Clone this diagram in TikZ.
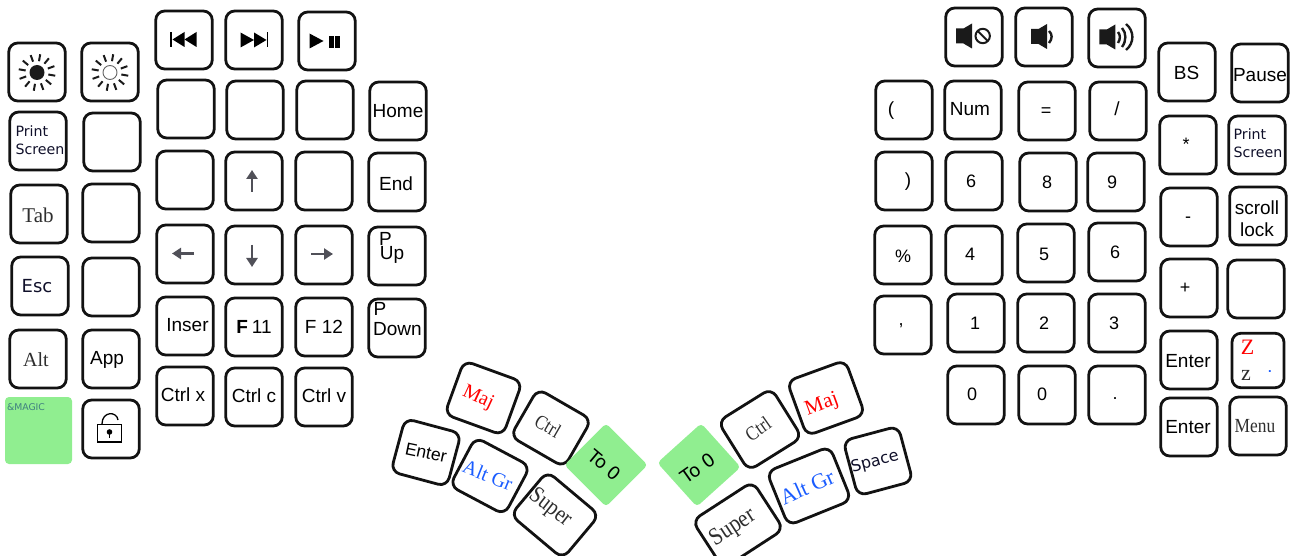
\documentclass[tikz,border=0pt]{standalone}
\usepackage{fontspec}
\setmainfont{Liberation Sans}
\newfontfamily\serifkey{Liberation Serif}
\newfontfamily\dejakey{DejaVu Sans}
\usetikzlibrary{arrows.meta}
\definecolor{keyline}{HTML}{121212}
\definecolor{keygrey}{HTML}{2E2E2E}
\definecolor{iconink}{HTML}{1A1A1A}
\definecolor{arrowink}{HTML}{505058}
\definecolor{magicgreen}{HTML}{90EE90}
\definecolor{altblue}{HTML}{1A5CFF}
\definecolor{magicink}{HTML}{3F7F80}
\definecolor{printink}{HTML}{10102A}
\newcommand{\kfs}[1]{\fontsize{#1}{#1}\selectfont}
\newcommand{\sunrays}{
    \foreach \a in {15,45,...,345}
        \draw[iconink, line width=2pt] (\a+5:11.5pt) -- (\a+5:18.5pt);
}
\tikzset{
    keybox/.style={draw=keyline, line width=2.8pt, rounded corners=9pt, minimum width=56.5pt, minimum height=58pt, inner sep=0pt, align=center, font=\kfs{19}},
    greenkey/.style={fill=magicgreen, rounded corners=4pt, minimum width=67pt, minimum height=67pt, inner sep=0pt},
    keytext/.style={inner sep=0pt, align=center, font=\kfs{19}},
    seriftext/.style={inner sep=0pt, text=keygrey, font=\serifkey\kfs{20}},
    printtext/.style={inner sep=0pt, align=left, text=printink, font=\dejakey\fontsize{14.2}{18}\selectfont},
    keyarrow/.style={-{Triangle[length=9pt, width=11pt]}, draw=arrowink, fill=arrowink, line width=2.4pt},
    sundark/.pic={\sunrays \fill[iconink] (0,0) circle (7.5pt);},
    sunlight/.pic={\sunrays \draw[black!60, line width=0.9pt] (0,0) circle (7pt);},
    speaker/.pic={\fill[iconink] (0,-7.5) -- (7.5,-7.5) -- (16,-12.5) -- (16,12.5) -- (7.5,7.5) -- (0,7.5) -- cycle;},
    x=1pt, y=-1pt
}
\begin{document}
\begin{tikzpicture}
    \useasboundingbox (0,0) rectangle (1302,556);
    \clip (0,0) rectangle (1302,556);
    % left hand, outer columns
    \node[keybox] (bdark) at (37,72) {};
    \node[keybox] (blight) at (110,72) {};
    \node[keybox] (printl) at (38,141) {};
    \node[keybox] (blanka) at (112,142) {};
    \node[keybox] (tab) at (39,214) {};
    \node[keybox] (blankb) at (111,213) {};
    \node[keybox] (esc) at (40,286) {};
    \node[keybox] (blankc) at (111,287) {};
    \node[keybox] (alt) at (38,359) {};
    \node[keybox] (app) at (111,359) {};
    \node[greenkey] (magic) at (38.5,430.5) {};
    \node[keybox] (lock) at (111,429) {};
    \pic at (37,72.5) {sundark};
    \pic at (110,72.5) {sunlight};
    \node[printtext] (printlt) at (40,140) {Print\\Screen};
    \node[seriftext, font=\serifkey\kfs{21}] (tabt) at (38,215) {Tab};
    \node[keytext, font=\dejakey\kfs{18}, text=printink] (esct) at (37,286) {Esc};
    \node[seriftext] (altt) at (36,360) {Alt};
    \node[keytext] (appt) at (107,359.5) {App};
    \node[inner sep=0pt, text=magicink, font=\dejakey\kfs{9.3}] (magict) at (26,407.5) {\&MAGIC};
    \draw[black, line width=1.3pt] (97.5,442) -- (97.5,424.5) -- (121.5,424.5) -- (121.5,442) -- cycle;
    \draw[black, line width=1.3pt] (102,424) .. controls (102,411) and (117,411) .. (118,420);
    \fill[black] (109.5,432) circle (2.8pt);
    \draw[black, line width=1.3pt] (109.5,433) -- (109.5,438);
    % left hand, main block
    \node[keybox] (prev) at (184,40) {};
    \node[keybox] (next) at (254,40) {};
    \node[keybox] (play) at (327,41) {};
    \node[keybox] (ra) at (186,109) {};
    \node[keybox] (rb) at (255,110) {};
    \node[keybox] (rc) at (325,110) {};
    \node[keybox] (home) at (398,111) {Home};
    \node[keybox] (sa) at (185,180) {};
    \node[keybox] (up) at (254,181) {};
    \node[keybox] (sc) at (324,181) {};
    \node[keybox] (end) at (397,182) {};
    \node[keybox] (left) at (185,254) {};
    \node[keybox] (down) at (254,255) {};
    \node[keybox] (right) at (324,255) {};
    \node[keybox] (pup) at (397,256) {};
    \node[keybox] (inser) at (185,326) {};
    \node[keybox] (ften) at (254,327) {\textbf{F}\kern4pt11};
    \node[keybox] (ftw) at (324,327) {F 12};
    \node[keybox] (pdown) at (397,328) {};
    \node[keybox] (ctrlx) at (185,396) {};
    \node[keybox] (ctrlc) at (254,397) {};
    \node[keybox] (ctrlv) at (324,397) {};
    \fill[black] (170.3,32) rectangle (172.3,47);
    \fill[black] (172.5,39.5) -- (184.5,32) -- (184.5,47) -- cycle;
    \fill[black] (184.5,39.5) -- (196.5,32) -- (196.5,47) -- cycle;
    \fill[black] (240.5,32.5) -- (254,40) -- (240.5,47.5) -- cycle;
    \fill[black] (254,32.5) -- (266.5,40) -- (254,47.5) -- cycle;
    \fill[black] (266.5,32.5) rectangle (268.3,47.5);
    \fill[black] (309.5,33.5) -- (323.5,41) -- (309.5,48.5) -- cycle;
    \fill[black] (329.3,36) rectangle (334,48);
    \fill[black] (335.3,36) rectangle (340,48);
    \draw[keyarrow] (252,192) -- (252,170);
    \draw[keyarrow] (252,245) -- (252,267);
    \draw[keyarrow] (194,253.5) -- (172,253.5);
    \draw[keyarrow] (311,254) -- (333,254);
    \node[keytext] (endt) at (396,184) {End};
    \node[keytext, anchor=north west] (pupp) at (379,232) {P};
    \node[keytext] (pupt) at (392,255) {Up};
    \node[keytext] (insert) at (187.5,325) {Inser};
    \node[keytext, anchor=north west] (pdownp) at (373.5,302.5) {P};
    \node[keytext] (pdownt) at (397.5,329) {Down};
    \node[keytext] (ctrlxt) at (183,395) {Ctrl x};
    \node[keytext] (ctrlct) at (254,395.5) {Ctrl c};
    \node[keytext] (ctrlvt) at (324,396) {Ctrl v};
    % left thumb
    \node[keybox, rotate=-20, minimum width=62pt, minimum height=57pt] (tmaj) at (483.5,398) {};
    \node[keybox, rotate=-30, minimum width=62pt, minimum height=55pt] (tctrl) at (551,428) {};
    \node[keybox, rotate=-15, minimum width=58pt, minimum height=55pt] (tenter) at (426,452.5) {};
    \node[keybox, rotate=-28, minimum width=62pt, minimum height=55pt] (taltgr) at (490,476) {};
    \node[keybox, rotate=-40, minimum width=68pt, minimum height=57pt] (tsuper) at (555,515) {};
    \node[greenkey, rotate=-45, minimum width=59pt, minimum height=59pt] (ttoz) at (606,465) {};
    \node[seriftext, text=red, rotate=-25] (tmajt) at (478,398) {Maj};
    \node[seriftext, rotate=-30] (tctrlt) at (548,426) {\scalebox{0.85}[1]{Ctrl}};
    \node[keytext, rotate=-12, font=\kfs{17.5}] (tentert) at (426,453) {Enter};
    \node[seriftext, text=altblue, rotate=-22] (taltgrt) at (488,475) {Alt Gr};
    \node[seriftext, rotate=-38, font=\serifkey\kfs{23.5}] (tsupert) at (550,508) {\scalebox{0.87}[1]{Super}};
    \node[keytext, rotate=-40, font=\dejakey\kfs{18}] (ttozt) at (605,465) {To 0};
    % right thumb
    \node[greenkey, rotate=42, minimum width=59pt, minimum height=59pt] (utoz) at (699,465) {};
    \node[keybox, rotate=32, minimum width=63pt, minimum height=58pt] (uctrl) at (760,429.5) {};
    \node[keybox, rotate=20, minimum width=62pt, minimum height=58pt] (umaj) at (826,398) {};
    \node[keybox, rotate=22, minimum width=68pt, minimum height=58pt] (ualtgr) at (809,486) {};
    \node[keybox, rotate=15, minimum width=57pt, minimum height=57pt] (uspace) at (878,461) {};
    \node[keybox, rotate=33, minimum width=72pt, minimum height=57pt] (usuper) at (738,525) {};
    \node[keytext, rotate=35, font=\dejakey\kfs{18.5}] (utozt) at (698,468) {To 0};
    \node[seriftext, rotate=35] (uctrlt) at (758,429) {\scalebox{0.85}[1]{Ctrl}};
    \node[seriftext, text=red, rotate=20, font=\serifkey\kfs{21}] (umajt) at (822,405) {Maj};
    \node[seriftext, text=altblue, rotate=24, font=\serifkey\kfs{22}] (ualtgrt) at (807,487) {Alt Gr};
    \node[keytext, rotate=15, text=printink, font=\dejakey\kfs{16}] (uspacet) at (875,462) {Space};
    \node[seriftext, rotate=33, font=\serifkey\kfs{24.5}] (usupert) at (733,528) {\scalebox{0.87}[1]{Super}};
    % right hand, main block
    \node[keybox] (mute) at (974,37) {};
    \node[keybox] (vdown) at (1044,37) {};
    \node[keybox] (vup) at (1117,38) {};
    \node[keybox] (pleft) at (904,110) {};
    \node[keybox] (num) at (973,110) {};
    \node[keybox] (equal) at (1047,111) {};
    \node[keybox] (slash) at (1118,111) {};
    \node[keybox] (pright) at (904,181) {};
    \node[keybox] (nsixa) at (974,181) {};
    \node[keybox] (neight) at (1048,182) {};
    \node[keybox] (nnine) at (1116,182) {};
    \node[keybox] (percent) at (903,255) {};
    \node[keybox] (nfour) at (974,255) {};
    \node[keybox] (nfive) at (1046,253) {};
    \node[keybox] (nsixb) at (1117,252) {};
    \node[keybox] (comma) at (903,325) {};
    \node[keybox] (none) at (976,323) {};
    \node[keybox] (ntwo) at (1046,323) {};
    \node[keybox] (nthree) at (1117,323) {};
    \node[keybox] (nzeroa) at (976,395) {};
    \node[keybox] (nzerob) at (1047,395) {};
    \node[keybox] (ndot) at (1117,395) {};
    \pic at (956,36) {speaker};
    \draw[iconink, line width=2pt] (982.7,36) circle (7.2pt);
    \draw[iconink, line width=2pt] (977.7,31) -- (987.7,41);
    \pic at (1031,36.5) {speaker};
    \draw[iconink, line width=2.4pt] (1049,31) .. controls (1052.5,34) and (1052.5,39) .. (1049,43);
    \pic at (1099.3,37) {speaker};
    \draw[iconink, line width=2.4pt] (1118,32) .. controls (1120.5,35) and (1120.5,39) .. (1118,43);
    \draw[iconink, line width=2.4pt] (1122,28) .. controls (1126.5,33) and (1126.5,41) .. (1122,47);
    \draw[iconink, line width=2.4pt] (1126,24) .. controls (1134.5,31) and (1134.5,43) .. (1126,50);
    \node[keytext] (pleftt) at (891,111) {(};
    \node[keytext] (numt) at (970,109.5) {Num};
    \node[keytext, font=\kfs{18}] (equalt) at (1046,112) {=};
    \node[keytext] (slasht) at (1117,109) {/};
    \node[keytext] (prightt) at (908,182) {)};
    \node[keytext, font=\kfs{18}] (nsixat) at (971,181) {6};
    \node[keytext, font=\kfs{18}] (neightt) at (1047,182) {8};
    \node[keytext, font=\kfs{18}] (nninet) at (1112,182) {9};
    \node[keytext, font=\kfs{18}] (percentt) at (903,256) {\%};
    \node[keytext, font=\kfs{18}] (nfourt) at (970,254) {4};
    \node[keytext, font=\kfs{18}] (nfivet) at (1044,254) {5};
    \node[keytext, font=\kfs{18}] (nsixbt) at (1115,252) {6};
    \node[keytext, font=\kfs{18}] (commat) at (901,326) {,};
    \node[keytext, font=\kfs{18}] (nonet) at (975,323) {1};
    \node[keytext, font=\kfs{18}] (ntwot) at (1044,323) {2};
    \node[keytext, font=\kfs{18}] (nthreet) at (1114,323) {3};
    \node[keytext, font=\kfs{18}] (nzeroat) at (972,394) {0};
    \node[keytext, font=\kfs{18}] (nzerobt) at (1042,394) {0};
    \node[keytext, font=\kfs{18}] (ndott) at (1115,399) {.};
    % right hand, outer columns
    \node[keybox] (bs) at (1187,72) {};
    \node[keybox] (pause) at (1260,73) {};
    \node[keybox] (star) at (1188,145) {};
    \node[keybox] (printr) at (1257,145) {};
    \node[keybox] (minus) at (1189,217) {};
    \node[keybox] (scroll) at (1258,216) {};
    \node[keybox] (plus) at (1189,288) {};
    \node[keybox] (blankd) at (1256,289) {};
    \node[keybox] (entera) at (1189,360) {};
    \node[keybox, minimum width=52pt, minimum height=54.5pt] (sleep) at (1258,360.5) {};
    \node[keybox] (enterb) at (1189,427) {};
    \node[keybox] (menu) at (1258,426) {};
    \node[keytext] (bst) at (1186.5,73) {BS};
    \node[keytext] (pauset) at (1260,75) {Pause};
    \node[keytext, font=\kfs{18}] (start) at (1186,144) {*};
    \node[printtext] (printrt) at (1258,143.5) {Print\\Screen};
    \node[keytext, font=\kfs{18}] (minust) at (1188,220) {-};
    \node[keytext, font=\fontsize{19}{22.5}\selectfont] (scrollt) at (1257,218.5) {scroll\\lock};
    \node[keytext, font=\kfs{18}] (plust) at (1185,288) {+};
    \node[keytext] (enterat) at (1188,361) {Enter};
    \node[seriftext, text=red, font=\serifkey\kfs{22}] (bigz) at (1247.5,347) {Z};
    \node[seriftext, font=\serifkey\kfs{22}] (smallz) at (1246,375) {z};
    \node[keytext, text=altblue, font=\bfseries\kfs{13}] (sleepdot) at (1270,372) {.};
    \node[keytext] (enterbt) at (1188,427) {Enter};
    \node[seriftext] (menut) at (1255,426) {\scalebox{0.87}[1]{Menu}};
\end{tikzpicture}
\end{document}
